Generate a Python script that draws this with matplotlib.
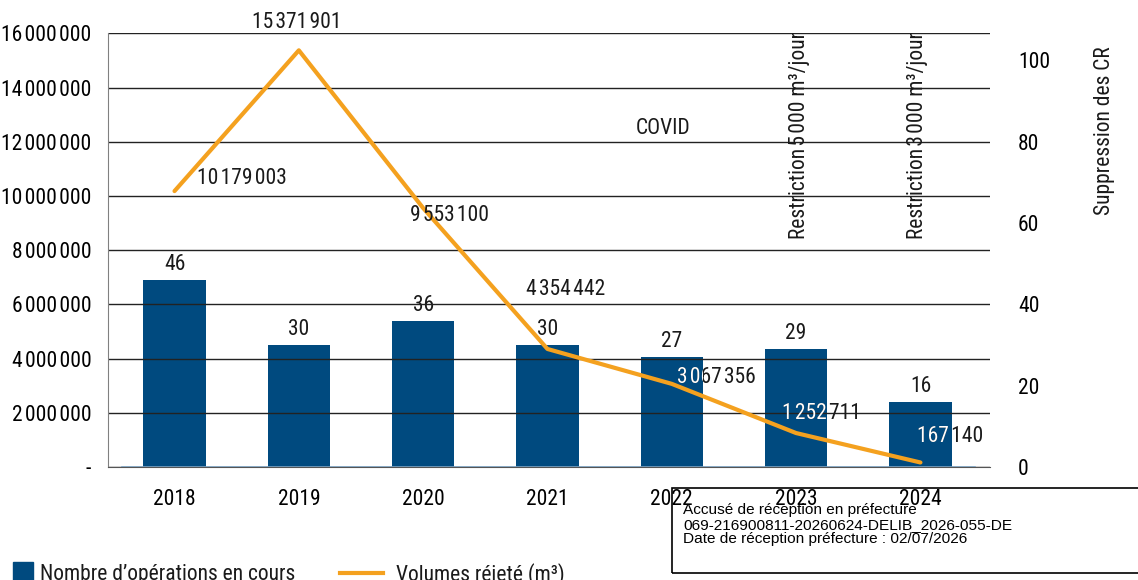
import matplotlib
matplotlib.use('Agg')
import matplotlib.pyplot as plt
from matplotlib import font_manager
from matplotlib.lines import Line2D
from matplotlib.patches import Rectangle
from matplotlib.transforms import TransformedBbox

years = ['2018', '2019', '2020', '2021', '2022', '2023', '2024']
operations = [46, 30, 36, 30, 27, 29, 16]
volumes = [10179003, 15371901, 9553100, 4354442, 3067356, 1252711, 167140]

# where each volume label sits relative to its point (pixels)
label_offsets = [(67, 13), (-2, 28), (26, -7), (18, 59), (45, 6), (25, 20), (30, 26)]

navy = '#004a7f'
orange = '#f4a11f'

# look for a narrow sans font, the chart uses a condensed face
narrow = None
prefs = ['Roboto Condensed', 'Liberation Sans Narrow', 'Open Sans Condensed',
         'Noto Sans', 'DejaVu Sans', 'Roboto', 'Open Sans']
found = []
for f in font_manager.fontManager.ttflist:
    st = str(f.stretch)
    condensed = st in ('condensed', 'semi-condensed', 'extra-condensed') or \
        'Condensed' in f.name or 'Narrow' in f.name
    if condensed and f.style == 'normal' and 'Mono' not in f.name and 'Serif' not in f.name:
        found.append((f.name, st))
for p in prefs:
    for name, st in found:
        if name == p:
            narrow = (name, st)
            break
    if narrow:
        break
if narrow is None and found:
    narrow = found[0]

if narrow:
    plt.rcParams['font.family'] = [narrow[0], 'DejaVu Sans']
    plt.rcParams['font.stretch'] = narrow[1]
    fs = 15.5
else:
    plt.rcParams['font.family'] = ['Roboto', 'DejaVu Sans']
    fs = 14
plt.rcParams['font.size'] = fs
plt.rcParams['text.color'] = '#1a1a1a'

sep = '\u200a'


def fmt(v):
    return f'{v:,}'.replace(',', sep)


fig = plt.figure(figsize=(11.38, 5.8), dpi=100)
ax = fig.add_axes([0.0949, 0.1948, 0.7751, 0.7478])
ax2 = ax.twinx()

x = range(len(years))
bars = ax2.bar(x, operations, width=0.5, color=navy)
ax2.bar_label(bars, padding=3.5, fontsize=fs)
ax2.set_ylim(0, 16e6 / 150000)
ax2.set_yticks([0, 20, 40, 60, 80, 100])
ax2.tick_params(axis='y', length=0, pad=20, labelsize=fs)
for s in ax2.spines.values():
    s.set_visible(False)

# line axis goes on top so the line and grid lines cross the bars
ax.set_zorder(ax2.get_zorder() + 1)
ax.patch.set_visible(False)

ax.plot(x, volumes, color=orange, lw=3, solid_capstyle='round', zorder=3)
for i, v in enumerate(volumes):
    dx, dy = label_offsets[i]
    ax.annotate(fmt(v), (i, v), xytext=(dx, dy), textcoords='offset pixels',
                ha='center', va='center', fontsize=fs, color='#1a1a1a', zorder=4)
    # white part of the label where it lies on the bar
    t = ax.annotate(fmt(v), (i, v), xytext=(dx, dy), textcoords='offset pixels',
                    ha='center', va='center', fontsize=fs, color='white', zorder=5)
    t.set_clip_box(TransformedBbox(bars[i].get_bbox(), ax2.transData))
    t.set_clip_on(True)

ax.set_xlim(-0.535, 6.56)
ax.set_ylim(0, 16e6)
ax.set_xticks(list(x))
ax.set_xticklabels(years)
ax.set_yticks([i * 2000000 for i in range(9)])
ax.set_yticklabels(['-'] + [fmt(i * 2000000) for i in range(1, 9)])
ax.tick_params(axis='y', length=0, pad=12, labelsize=fs)
ax.tick_params(axis='x', length=0, pad=16, labelsize=fs)
ax.yaxis.grid(True, color='#222222', lw=1)
ax.spines['top'].set_visible(False)
ax.spines['right'].set_visible(False)
ax.spines['left'].set_color('#808080')
ax.spines['bottom'].set_color('#555555')
ax.axhline(0, xmin=0.016, xmax=0.983, color='#7fa7c9', lw=1.2, zorder=2.5)

ax.text(3.93, 12.5e6, 'COVID', ha='center', va='center', fontsize=fs)
ax.text(5.03, 1.003, f'Restriction{sep}5{sep}000 m³/jour', transform=ax.get_xaxis_transform(),
        rotation=90, ha='center', va='top', fontsize=fs)
ax.text(5.98, 1.003, f'Restriction{sep}3{sep}000 m³/jour', transform=ax.get_xaxis_transform(),
        rotation=90, ha='center', va='top', fontsize=fs)
ax2.text(1.130, 0.775, 'Suppression des CR', transform=ax2.transAxes,
         rotation=90, ha='center', va='center', fontsize=fs)

h1 = Line2D([], [], marker='s', ls='none', color=navy, markersize=15)
h2 = Line2D([], [], color=orange, lw=3)
fig.legend([h1], ['Nombre d’opérations en cours'], loc='center left',
           bbox_to_anchor=(0.0105, 0.010), frameon=False, borderpad=0,
           borderaxespad=0, handlelength=1.0, handletextpad=0.3, fontsize=fs)
fig.legend([h2], ['Volumes réjeté (m³)'], loc='center left',
           bbox_to_anchor=(0.2988, 0.010), frameon=False, borderpad=0,
           borderaxespad=0, handlelength=2.0, handletextpad=0.6, fontsize=fs)

fig.patches.append(Rectangle((672 / 1138, 1 - 573 / 580), 470 / 1138, 85 / 580,
                             transform=fig.transFigure, fill=False, lw=1.2,
                             ec='black', zorder=10))
fig.text(683 / 1138, 1 - 503 / 580,
         'Accusé de réception en préfecture\n069-216900811-20260624-DELIB_2026-055-DE\n'
         'Date de réception préfecture : 02/07/2026',
         family='Liberation Sans', stretch='normal', fontsize=11.1, linespacing=1.05,
         va='top', color='black', zorder=11)

fig.savefig('out.png', dpi=100)
